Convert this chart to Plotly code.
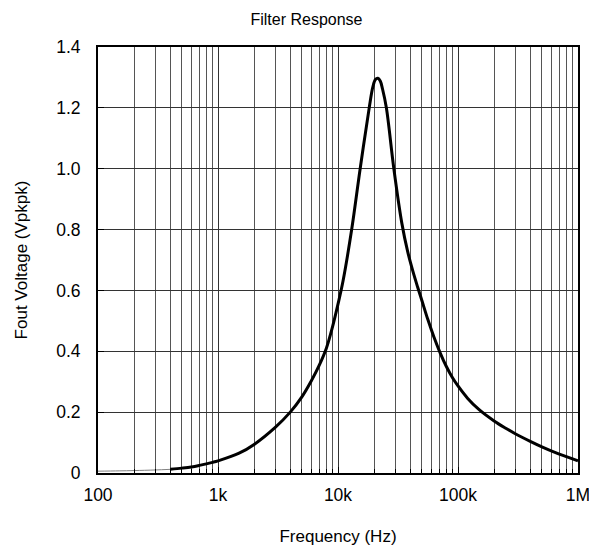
import plotly.graph_objects as go

# Data
freq_hz = [100, 150, 200, 300, 400, 500, 600, 700, 800, 900,
           1000, 1500, 2000, 3000, 4000, 5000, 6000, 7000, 8000, 9000,
           10000, 11000, 13000, 15300, 18200, 19500, 20500, 21500, 22500, 23500,
           25300, 29200, 34000, 38000, 42000, 46000, 50000, 56000, 63000, 71000,
           80000, 90000, 100000, 120000, 150000, 200000, 250000, 300000, 400000, 500000,
           650000, 800000, 1000000]
fout_vpkpk = [0.006, 0.007, 0.008, 0.010, 0.012, 0.016, 0.020, 0.025, 0.030, 0.035,
              0.040, 0.065, 0.094, 0.150, 0.200, 0.250, 0.303, 0.355, 0.410, 0.480,
              0.555, 0.630, 0.800, 1.000, 1.200, 1.268, 1.293, 1.297, 1.288, 1.262,
              1.200, 1.000, 0.822, 0.729, 0.664, 0.612, 0.567, 0.505, 0.447, 0.395,
              0.350, 0.313, 0.286, 0.246, 0.208, 0.171, 0.147, 0.129, 0.104, 0.086,
              0.067, 0.054, 0.040]

x_tickvals = [100, 1000, 10000, 100000, 1000000]
x_ticktext = ["100", "1k", "10k", "100k", "1M"]
y_tickvals = [0, 0.2, 0.4, 0.6, 0.8, 1.0, 1.2, 1.4]
y_ticktext = ["0", "0.2", "0.4", "0.6", "0.8", "1.0", "1.2", "1.4"]

FONT = "Liberation Sans, Arial, sans-serif"
split = 4  # index where the thin low-level segment ends

fig = go.Figure()
fig.add_trace(go.Scatter(x=freq_hz[:split + 1], y=fout_vpkpk[:split + 1], mode="lines",
                         line=dict(color="#808080", width=1, shape="spline"),
                         showlegend=False, hoverinfo="skip"))
fig.add_trace(go.Scatter(x=freq_hz[split:], y=fout_vpkpk[split:], mode="lines",
                         line=dict(color="black", width=3, shape="spline", smoothing=1.0),
                         showlegend=False))

fig.update_layout(
    width=597, height=550,
    margin=dict(l=90, r=27, t=39, b=85),
    paper_bgcolor="white", plot_bgcolor="white",
    font=dict(family=FONT, size=17, color="black"),
    title=dict(text="Filter Response", x=0.5, xanchor="center", y=0.99, yanchor="top",
               font=dict(family=FONT, size=16, color="black")),
    showlegend=False,
)
fig.update_xaxes(
    type="log", range=[2, 6],
    tickvals=x_tickvals, ticktext=x_ticktext,
    showgrid=True, gridcolor="#333333", gridwidth=1,
    minor=dict(dtick="D1", showgrid=True, gridcolor="#555555", gridwidth=1,
               ticks="inside", ticklen=4, tickcolor="black"),
    ticks="inside", ticklen=6, tickcolor="black",
    showline=True, linecolor="black", linewidth=2, mirror=True,
    zeroline=False,
    ticklabelstandoff=5,
    title=dict(text="Frequency (Hz)", standoff=26, font=dict(family=FONT, size=17)),
    tickfont=dict(family=FONT, size=17.5),
)
fig.update_yaxes(
    range=[0, 1.4],
    tickvals=y_tickvals, ticktext=y_ticktext,
    showgrid=True, gridcolor="#333333", gridwidth=1,
    ticks="inside", ticklen=6, tickcolor="black",
    showline=True, linecolor="black", linewidth=2, mirror=True,
    zeroline=False,
    ticklabelstandoff=12,
    title=dict(text="Fout Voltage (Vpkpk)", standoff=24, font=dict(family=FONT, size=17)),
    tickfont=dict(family=FONT, size=17.5),
)

fig.write_html("out.html")
